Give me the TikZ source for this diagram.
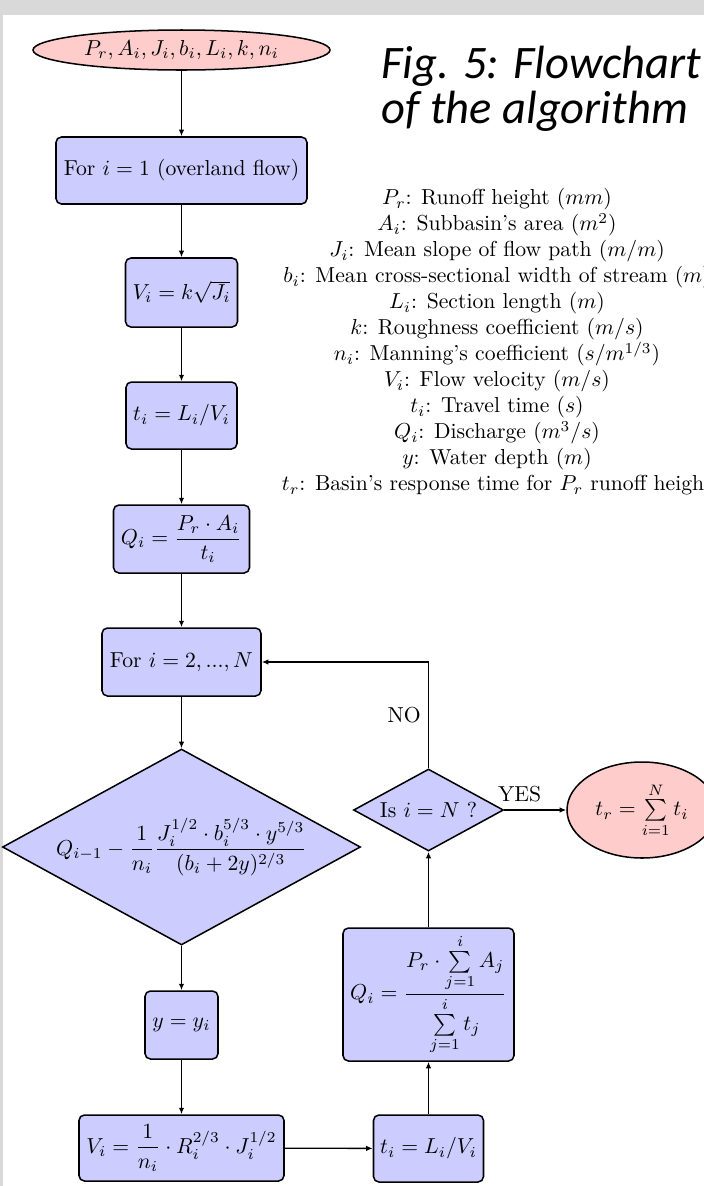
\documentclass[tikz,border=0pt]{standalone}
\usepackage{fontspec}
\usepackage{amsmath}
\newfontfamily\captionfont{Carlito}
\usetikzlibrary{arrows.meta}
\usetikzlibrary{shapes.geometric, math}
\newcommand{\pxu}{0.4615pt}

\begin{document}
\begin{tikzpicture}[x=\pxu,y=-\pxu,
  block/.style={draw,rounded corners=2.5pt,fill=blue!20,line width=0.7pt,inner sep=1pt},
  term/.style={draw,ellipse,fill=red!20,line width=0.7pt,inner sep=0pt},
  decision/.style={draw,diamond,fill=blue!20,line width=0.7pt,inner sep=0pt,aspect=1.83},
  link/.style={-{Latex[length=3pt,width=2.5pt]},line width=0.6pt},
  caption/.style={anchor=base west,inner sep=0pt,font=\captionfont\itshape\fontsize{21.5}{26}\selectfont}]
\tikzmath{
\colA=181.5;
\colB=428.5;
\colC=642;
}
\useasboundingbox (0,0) rectangle (704,1186);
\fill[white] (0,0) rectangle (704,1186);
\fill[gray!30] (0,0) rectangle (704,15);
\fill[gray!30] (0,0) rectangle (3,1186);

% left column
\node[term,minimum width=297*\pxu,minimum height=40*\pxu] (inp) at (\colA,50) {$P_r, A_i, J_i, b_i, L_i, k, n_i$};
\node[block,minimum width=251*\pxu,minimum height=67*\pxu] (for1) at (\colA,170.5) {For $i=1$ (overland flow)};
\node[block,minimum width=112*\pxu,minimum height=69*\pxu] (vel1) at (\colA,292.5) {$V_i = k\sqrt{J_i}$};
\node[block,minimum width=111*\pxu,minimum height=67*\pxu] (time1) at (\colA,415.5) {$t_i = L_i/V_i$};
\node[block,minimum width=136*\pxu,minimum height=68*\pxu] (dis1) at (\colA,539) {$Q_i = \dfrac{P_r\cdot A_i}{t_i}$};
\node[block,minimum width=159*\pxu,minimum height=68*\pxu] (for2) at (\colA,662) {For $i = 2, ..., N$};
\node[decision,minimum width=358*\pxu,minimum height=196*\pxu] (cond) at (\colA,847) {$Q_{i-1} - \dfrac{1}{n_i}\dfrac{J_i^{1/2}\cdot b_i^{5/3}\cdot y^{5/3}}{(b_i+2y)^{2/3}}$};
\node[block,minimum width=73*\pxu,minimum height=68*\pxu] (depth) at (\colA,1025) {$y = y_i$};
\node[block,minimum width=205*\pxu,minimum height=66*\pxu] (vel2) at (\colA,1148) {$V_i = \dfrac{1}{n_i}\cdot R_i^{2/3}\cdot J_i^{1/2}$};

% right column
\node[block,minimum width=110*\pxu,minimum height=67*\pxu] (time2) at (\colB,1148.5) {$t_i = L_i/V_i$};
\node[block,minimum width=171*\pxu,minimum height=133*\pxu] (dis2) at (\colB,994.5) {$Q_i = \dfrac{P_r\cdot\sum\limits_{j=1}^{i} A_j}{\sum\limits_{j=1}^{i} t_j}$};
\node[decision,minimum width=150*\pxu,minimum height=82*\pxu] (check) at (\colB,810) {Is $i = N$ ?};
\node[term,minimum width=150*\pxu,minimum height=96*\pxu] (out) at (\colC,810) {$t_r = \sum\limits_{i=1}^{N} t_i$};

% connectors
\draw[link] (inp) -- (for1);
\draw[link] (for1) -- (vel1);
\draw[link] (vel1) -- (time1);
\draw[link] (time1) -- (dis1);
\draw[link] (dis1) -- (for2);
\draw[link] (for2) -- (cond);
\draw[link] (cond) -- (depth);
\draw[link] (depth) -- (vel2);
\draw[link] (vel2) -- (time2);
\draw[link] (time2) -- (dis2);
\draw[link] (dis2) -- (check);
\draw[link] (check) -- node[above,pos=0.25]{YES} (out);
\draw[link] (check.north) |- node[pos=0.25,left]{NO} (for2.east);

% caption and legend
\node[caption] (cap1) at (381,78) {Fig. 5: Flowchart};
\node[caption] (cap2) at (381,123) {of the algorithm};
\node[align=center] (legend) at (497,342) {
$P_r$: Runoff height ($mm$)\\
$A_i$: Subbasin's area ($m^2$)\\
$J_i$: Mean slope of flow path ($m/m$)\\
$b_i$: Mean cross-sectional width of stream ($m$)\\
$L_i$: Section length ($m$)\\
$k$: Roughness coefficient ($m/s$)\\
$n_i$: Manning's coefficient ($s/m^{1/3}$)\\
$V_i$: Flow velocity ($m/s$)\\
$t_i$: Travel time ($s$)\\
$Q_i$: Discharge ($m^3/s$)\\
$y$: Water depth ($m$)\\
$t_r$: Basin's response time for $P_r$ runoff height};
\end{tikzpicture}
\end{document}
